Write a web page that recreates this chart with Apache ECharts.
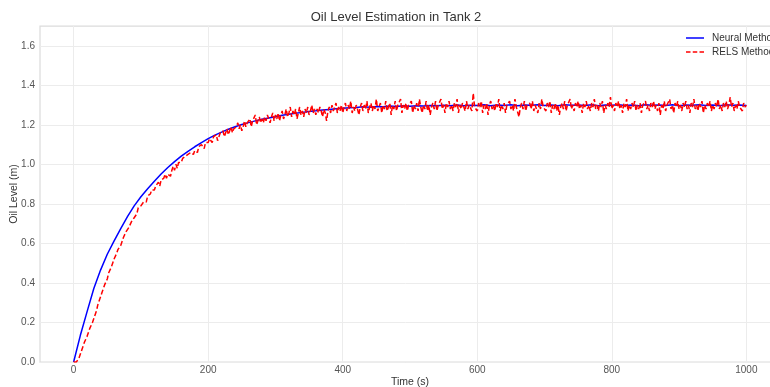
<!DOCTYPE html>
<html>
<head>
<meta charset="utf-8">
<script src="https://cdn.jsdelivr.net/npm/echarts@6/dist/echarts.min.js"></script>
<style>
  html, body { margin: 0; padding: 0; background: #fff; }
  #chart { width: 770px; height: 387px; }
</style>
</head>
<body>
<div id="chart"></div>
<script>
const neuralStep = 10;
const neuralLevel = [
  0.000, 0.135, 0.255, 0.372, 0.465, 0.545, 0.612, 0.675, 0.735, 0.790,
  0.836, 0.877, 0.915, 0.951, 0.984, 1.014, 1.042, 1.066, 1.089, 1.110,
  1.130, 1.148, 1.163, 1.178, 1.190, 1.202, 1.211, 1.220, 1.228, 1.235,
  1.241, 1.248, 1.253, 1.258, 1.263, 1.268, 1.271, 1.275, 1.278, 1.281,
  1.284, 1.286, 1.288, 1.291, 1.289, 1.293, 1.292, 1.295, 1.293, 1.296,
  1.294, 1.297, 1.295, 1.298, 1.296, 1.299, 1.297, 1.300, 1.296, 1.299,
  1.298, 1.301, 1.297, 1.300, 1.298, 1.301, 1.297, 1.300, 1.299, 1.302,
  1.298, 1.300, 1.297, 1.301, 1.299, 1.300, 1.298, 1.301, 1.297, 1.300,
  1.299, 1.302, 1.298, 1.300, 1.297, 1.301, 1.299, 1.300, 1.298, 1.301,
  1.297, 1.300, 1.299, 1.301, 1.298, 1.300, 1.297, 1.301, 1.299, 1.300,
  1.298
];

const relsStep = 2;
const relsLevel = [
  0.00, 0.00, 0.00, 0.01, 0.02, 0.04, 0.06, 0.07, 0.10, 0.11,
  0.13, 0.14, 0.17, 0.18, 0.20, 0.22, 0.23, 0.26, 0.29, 0.30,
  0.33, 0.35, 0.36, 0.39, 0.40, 0.42, 0.45, 0.45, 0.48, 0.50,
  0.52, 0.52, 0.55, 0.57, 0.58, 0.59, 0.61, 0.63, 0.63, 0.66,
  0.67, 0.68, 0.69, 0.71, 0.72, 0.73, 0.74, 0.75, 0.78, 0.77,
  0.79, 0.78, 0.81, 0.82, 0.81, 0.84, 0.83, 0.85, 0.87, 0.86,
  0.87, 0.89, 0.88, 0.91, 0.89, 0.92, 0.91, 0.93, 0.95, 0.93,
  0.95, 0.96, 0.94, 0.97, 0.99, 0.97, 1.00, 0.98, 1.01, 1.02,
  1.01, 1.03, 1.02, 1.04, 1.03, 1.05, 1.04, 1.06, 1.07, 1.05,
  1.07, 1.08, 1.06, 1.09, 1.08, 1.10, 1.09, 1.08, 1.11, 1.12,
  1.11, 1.13, 1.12, 1.11, 1.14, 1.13, 1.15, 1.12, 1.14, 1.16,
  1.15, 1.17, 1.14, 1.16, 1.18, 1.15, 1.17, 1.19, 1.16, 1.18,
  1.17, 1.19, 1.21, 1.18, 1.20, 1.17, 1.19, 1.22, 1.19, 1.21,
  1.20, 1.23, 1.19, 1.22, 1.21, 1.25, 1.20, 1.22, 1.24, 1.21,
  1.23, 1.21, 1.24, 1.22, 1.25, 1.23, 1.21, 1.24, 1.26, 1.22,
  1.25, 1.23, 1.26, 1.22, 1.25, 1.27, 1.23, 1.25, 1.28, 1.24,
  1.26, 1.29, 1.24, 1.27, 1.25, 1.28, 1.23, 1.26, 1.29, 1.25,
  1.27, 1.24, 1.28, 1.26, 1.29, 1.25, 1.27, 1.30, 1.26, 1.28,
  1.25, 1.28, 1.26, 1.29, 1.27, 1.24, 1.28, 1.26, 1.22, 1.27,
  1.29, 1.26, 1.30, 1.27, 1.28, 1.31, 1.26, 1.29, 1.27, 1.30,
  1.26, 1.29, 1.31, 1.27, 1.30, 1.28, 1.32, 1.26, 1.29, 1.27,
  1.30, 1.28, 1.25, 1.29, 1.31, 1.27, 1.30, 1.28, 1.32, 1.26,
  1.29, 1.31, 1.27, 1.30, 1.28, 1.33, 1.27, 1.29, 1.31, 1.26,
  1.30, 1.28, 1.32, 1.27, 1.29, 1.31, 1.25, 1.30, 1.28, 1.32,
  1.27, 1.30, 1.29, 1.33, 1.26, 1.30, 1.28, 1.31, 1.27, 1.30,
  1.29, 1.32, 1.26, 1.30, 1.28, 1.31, 1.27, 1.33, 1.29, 1.26,
  1.30, 1.28, 1.32, 1.27, 1.30, 1.25, 1.29, 1.31, 1.28, 1.32,
  1.27, 1.30, 1.29, 1.33, 1.28, 1.30, 1.26, 1.31, 1.29, 1.32,
  1.28, 1.30, 1.27, 1.31, 1.29, 1.33, 1.26, 1.30, 1.28, 1.31,
  1.29, 1.27, 1.32, 1.28, 1.30, 1.31, 1.27, 1.36, 1.29, 1.30,
  1.27, 1.31, 1.29, 1.32, 1.26, 1.30, 1.28, 1.31, 1.25, 1.30,
  1.32, 1.28, 1.30, 1.27, 1.31, 1.29, 1.33, 1.27, 1.30, 1.28,
  1.31, 1.26, 1.30, 1.29, 1.32, 1.28, 1.30, 1.27, 1.33, 1.29,
  1.30, 1.24, 1.29, 1.31, 1.28, 1.32, 1.27, 1.30, 1.29, 1.31,
  1.28, 1.32, 1.27, 1.30, 1.29, 1.26, 1.31, 1.28, 1.33, 1.29,
  1.30, 1.27, 1.31, 1.29, 1.32, 1.26, 1.30, 1.28, 1.31, 1.27,
  1.30, 1.25, 1.29, 1.31, 1.28, 1.32, 1.27, 1.30, 1.29, 1.33,
  1.28, 1.30, 1.27, 1.31, 1.29, 1.32, 1.28, 1.30, 1.26, 1.31,
  1.29, 1.32, 1.28, 1.30, 1.27, 1.31, 1.29, 1.33, 1.28, 1.30,
  1.27, 1.31, 1.29, 1.32, 1.26, 1.30, 1.28, 1.31, 1.29, 1.34,
  1.28, 1.30, 1.27, 1.31, 1.29, 1.32, 1.28, 1.30, 1.26, 1.31,
  1.29, 1.33, 1.27, 1.30, 1.28, 1.31, 1.29, 1.32, 1.27, 1.30,
  1.28, 1.31, 1.26, 1.30, 1.29, 1.32, 1.28, 1.30, 1.27, 1.31,
  1.29, 1.32, 1.28, 1.30, 1.27, 1.31, 1.25, 1.30, 1.28, 1.32,
  1.27, 1.30, 1.29, 1.33, 1.28, 1.30, 1.26, 1.31, 1.29, 1.32,
  1.28, 1.30, 1.27, 1.31, 1.29, 1.32, 1.28, 1.30, 1.26, 1.31,
  1.29, 1.33, 1.28, 1.30, 1.27, 1.31, 1.29, 1.32, 1.26, 1.30,
  1.28, 1.31, 1.29, 1.32, 1.27, 1.30, 1.28, 1.31, 1.29, 1.33,
  1.28, 1.30, 1.27, 1.31, 1.29, 1.32, 1.28, 1.30, 1.34, 1.29,
  1.31, 1.27, 1.30, 1.28, 1.32, 1.29, 1.30, 1.27, 1.31, 1.29,
  1.30
];

const xTicks = [0, 200, 400, 600, 800, 1000];
const yTicks = [0, 0.2, 0.4, 0.6, 0.8, 1.0, 1.2, 1.4, 1.6];

const font = "Liberation Sans, Arial, sans-serif";
const neuralData = neuralLevel.map((v, i) => [i * neuralStep, v]);
const relsData = relsLevel.map((v, i) => [i * relsStep, v]);

// legend glyphs: a solid stroke and a dashed stroke
const solidIcon = "path://M0,0h18v1.5h-18z";
const dashedIcon = "path://M0,0h4.5v1.5h-4.5z M6.75,0h4.5v1.5h-4.5z M13.5,0h4.5v1.5h-4.5z";

const chart = echarts.init(document.getElementById("chart"));

const option = {
  animation: false,
  backgroundColor: "#ffffff",
  textStyle: { fontFamily: font },
  title: {
    text: "Oil Level Estimation in Tank 2",
    left: 391,
    textAlign: "center",
    top: 6,
    textStyle: { fontFamily: font, fontSize: 13, fontWeight: "normal", color: "#333333" }
  },
  legend: {
    orient: "vertical",
    left: 686,
    top: 33,
    padding: 0,
    itemWidth: 18,
    itemHeight: 1.5,
    itemGap: 4,
    textStyle: { fontFamily: font, fontSize: 10, color: "#333333", padding: [0, 0, 0, 3] },
    data: [
      { name: "Neural Method", icon: solidIcon, itemStyle: { color: "#0000ff" } },
      { name: "RELS Method", icon: dashedIcon, itemStyle: { color: "#ff0000" } }
    ]
  },
  grid: {
    left: 40,
    top: 26,
    right: -10,
    bottom: 25,
    show: true,
    borderColor: "#dcdcdc",
    borderWidth: 1.25,
    containLabel: false,
    outerBoundsMode: "none"
  },
  xAxis: {
    type: "value",
    min: -50,
    max: 1050,
    name: "Time (s)",
    nameLocation: "middle",
    nameGap: 15,
    nameMoveOverlap: false,
    nameTextStyle: { fontFamily: font, fontSize: 10.5, color: "#333333" },
    axisLine: { show: false },
    axisTick: { show: false, customValues: xTicks },
    axisLabel: {
      customValues: xTicks,
      fontFamily: font,
      fontSize: 10,
      color: "#555555",
      margin: 3,
      formatter: (v) => String(v)
    },
    splitLine: { show: true, lineStyle: { color: "#ececec", width: 1 } }
  },
  yAxis: {
    type: "value",
    min: 0,
    max: 1.7,
    name: "Oil Level (m)",
    nameLocation: "middle",
    nameGap: 20,
    nameMoveOverlap: false,
    nameTextStyle: { fontFamily: font, fontSize: 10.5, color: "#333333" },
    axisLine: { show: false },
    axisTick: { show: false, customValues: yTicks },
    axisLabel: {
      customValues: yTicks,
      fontFamily: font,
      fontSize: 10,
      color: "#555555",
      margin: 5,
      formatter: (v) => v.toFixed(1)
    },
    splitLine: { show: true, lineStyle: { color: "#ececec", width: 1 } }
  },
  series: [
    {
      name: "Neural Method",
      type: "line",
      data: neuralData,
      showSymbol: false,
      symbol: "none",
      lineStyle: { color: "#0000ff", width: 1.5 },
      itemStyle: { color: "#0000ff" }
    },
    {
      name: "RELS Method",
      type: "line",
      data: relsData,
      showSymbol: false,
      symbol: "none",
      lineStyle: { color: "#ff0000", width: 1.5, type: [5, 2.5] },
      itemStyle: { color: "#ff0000" }
    }
  ]
};

chart.setOption(option);
</script>
</body>
</html>
